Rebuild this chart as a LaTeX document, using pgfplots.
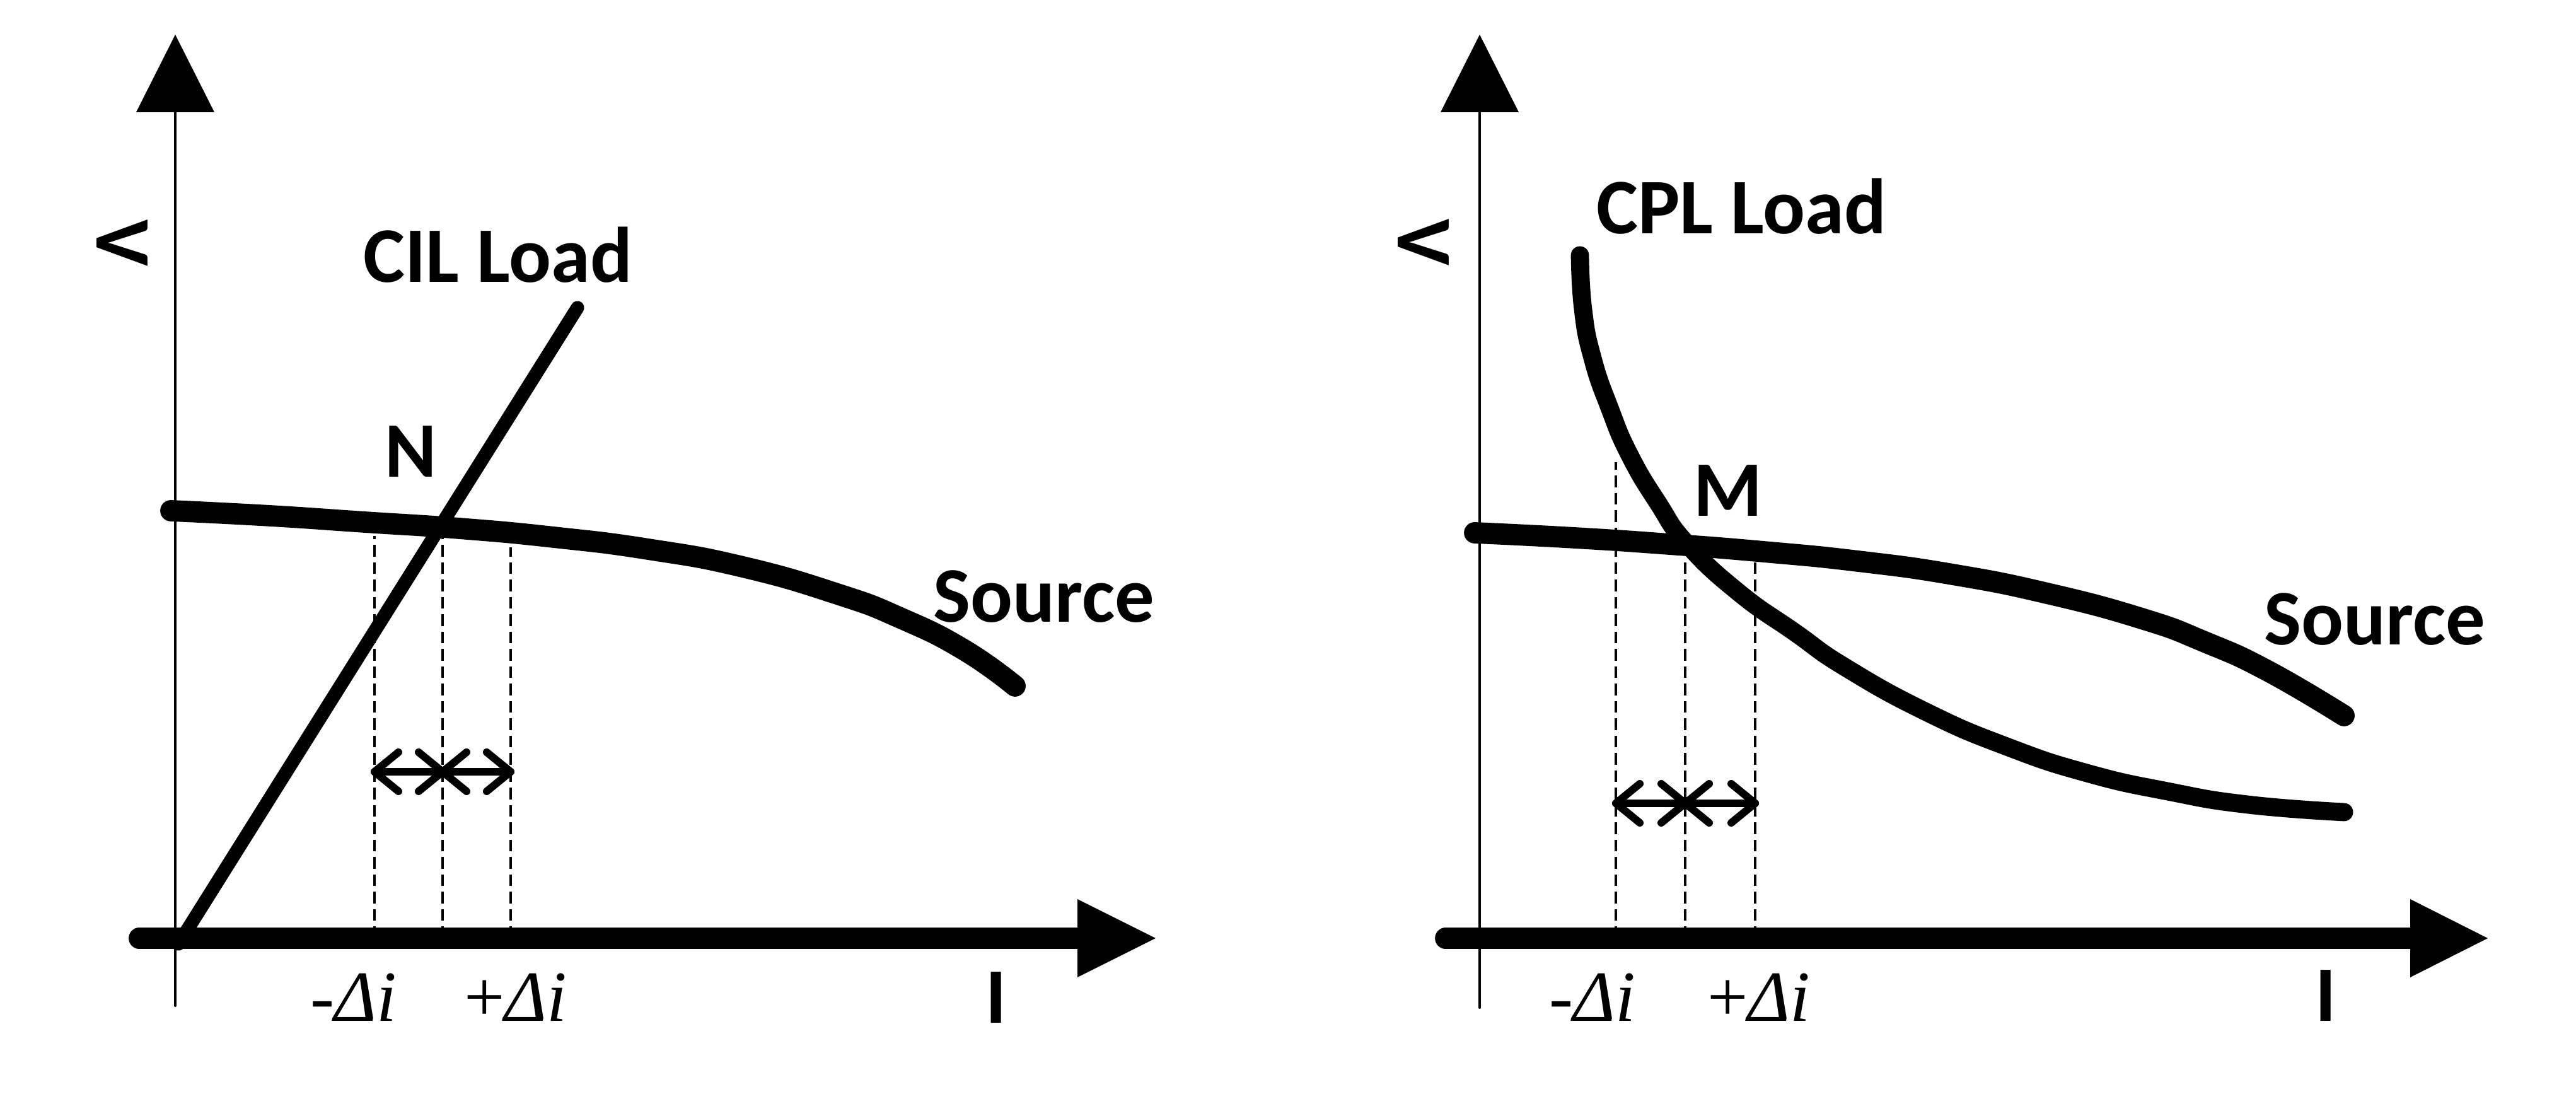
\documentclass[border=0pt]{standalone}
\usepackage{fontspec}
\setmainfont{Carlito}
\newfontfamily\lserif{Liberation Serif}
\usepackage{pgfplots}
\pgfplotsset{compat=1.18}

\newcommand{\lbl}{\fontsize{14.2}{17}\selectfont\bfseries}
\newcommand{\dlbl}{\fontsize{13}{15}\selectfont\lserif}

\pgfplotsset{
  panel/.style={scale only axis, width=81.72mm, height=69.4mm,
    ymin=-2.47, ymax=14.88, hide axis, clip=false},
  crv/.style={black, no markers, line cap=round, line join=round},
  guide/.style={black, no markers, line width=0.15mm, dash pattern=on 0.75mm off 0.35mm},
  chev/.style={crv, line width=0.48mm},
}

\begin{document}
\begin{tikzpicture}

% ---------------- left panel: CIL load ----------------
\begin{axis}[panel, at={(0,0)}, anchor=south west, xmin=-2.78, xmax=17.65]
\path (rel axis cs:0,0) rectangle (rel axis cs:1,1);

% V axis
\addplot[crv, line width=0.16mm] coordinates {(0,-1.07) (0,13.2)};
\addplot[fill=black, draw=none] coordinates {(-0.62,13.10) (0,14.33) (0.62,13.10)} -- cycle;

% guides
\addplot[guide] coordinates {(3.16,0) (3.16,6.38)};
\addplot[guide] coordinates {(4.24,0) (4.24,6.36)};
\addplot[guide] coordinates {(5.32,0) (5.32,6.20)};

% source
\addplot[crv, line width=1.35mm, smooth, tension=0.85] coordinates {
  (-0.07,6.78) (1.5,6.70) (3.0,6.60) (4.5,6.50) (6.0,6.36) (7.5,6.17)
  (9.0,5.89) (10.5,5.46) (11.5,5.08) (12.5,4.58) (13.32,4.00)};

% CIL load
\addplot[crv, line width=0.85mm] coordinates {(0.05,-0.09) (6.38,10.0)};

% +/- delta i arrows
\addplot[chev] coordinates {(3.16,2.64) (5.32,2.64)};
\addplot[chev] coordinates {(3.54,2.95) (3.16,2.64) (3.54,2.33)};
\addplot[chev] coordinates {(3.86,2.95) (4.24,2.64) (3.86,2.33)};
\addplot[chev] coordinates {(4.62,2.95) (4.24,2.64) (4.62,2.33)};
\addplot[chev] coordinates {(4.94,2.95) (5.32,2.64) (4.94,2.33)};

% I axis
\addplot[crv, line width=1.35mm] coordinates {(-0.57,0) (14.4,0)};
\addplot[fill=black, draw=none] coordinates {(14.31,0.62) (15.55,0) (14.31,-0.62)} -- cycle;

% labels
\node[font=\lbl, inner sep=0pt, anchor=base] at (axis cs:5.12,10.40) {CIL Load};
\node[font=\lbl, inner sep=0pt, anchor=base] at (axis cs:3.74,7.31) {N};
\node[font=\lbl, inner sep=0pt, anchor=base] at (axis cs:13.78,5.01) {Source};
\node[font=\lbl, inner sep=0pt, anchor=base] at (axis cs:13.02,-1.35) {I};
\node[font=\lbl, inner sep=0pt, rotate=-90] at (axis cs:-0.84,11.03) {V};
\node[inner sep=0pt, anchor=base] at (axis cs:2.83,-1.32) {\dlbl\itshape -Δi};
\node[inner sep=0pt, anchor=base] at (axis cs:5.40,-1.32) {\dlbl +\itshape Δi};
\end{axis}

% ---------------- right panel: CPL load ----------------
\begin{axis}[panel, at={(81.72mm,0)}, anchor=south west, xmin=-3.04, xmax=17.39]
\path (rel axis cs:0,0) rectangle (rel axis cs:1,1);

% V axis
\addplot[crv, line width=0.16mm] coordinates {(0,-1.10) (0,13.2)};
\addplot[fill=black, draw=none] coordinates {(-0.62,13.10) (0,14.33) (0.62,13.10)} -- cycle;

% guides
\addplot[guide] coordinates {(2.16,0) (2.16,7.55)};
\addplot[guide] coordinates {(3.26,0) (3.26,6.01)};
\addplot[guide] coordinates {(4.37,0) (4.37,6.03)};

% source
\addplot[crv, line width=1.35mm, smooth, tension=0.85] coordinates {
  (-0.08,6.43) (1.5,6.35) (3.0,6.25) (4.5,6.13) (6.0,5.98) (7.5,5.77)
  (9.0,5.47) (10.5,5.07) (11.5,4.70) (12.5,4.24) (13.71,3.53)};

% CPL load
\addplot[crv, line width=1.15mm, smooth, tension=0.85] coordinates {
  (1.59,10.83) (1.64,9.97) (1.79,9.20) (2.06,8.41) (2.38,7.66)
  (2.83,6.90) (3.29,6.25) (4.10,5.49) (5.00,4.85) (5.81,4.29)
  (7.08,3.59) (8.36,3.04) (9.63,2.62) (10.91,2.33) (12.18,2.12) (13.71,2.00)};

% +/- delta i arrows
\addplot[chev] coordinates {(2.16,2.14) (4.37,2.14)};
\addplot[chev] coordinates {(2.54,2.45) (2.16,2.14) (2.54,1.83)};
\addplot[chev] coordinates {(2.88,2.45) (3.26,2.14) (2.88,1.83)};
\addplot[chev] coordinates {(3.64,2.45) (3.26,2.14) (3.64,1.83)};
\addplot[chev] coordinates {(3.99,2.45) (4.37,2.14) (3.99,1.83)};

% I axis
\addplot[crv, line width=1.35mm] coordinates {(-0.54,0) (14.85,0)};
\addplot[fill=black, draw=none] coordinates {(14.76,0.62) (15.99,0) (14.76,-0.62)} -- cycle;

% labels
\node[font=\lbl, inner sep=0pt, anchor=base] at (axis cs:4.15,11.17) {CPL Load};
\node[font=\lbl, inner sep=0pt, anchor=base] at (axis cs:3.94,6.69) {M};
\node[font=\lbl, inner sep=0pt, anchor=base] at (axis cs:14.20,4.65) {Source};
\node[font=\lbl, inner sep=0pt, anchor=base] at (axis cs:13.42,-1.32) {I};
\node[font=\lbl, inner sep=0pt, rotate=-90] at (axis cs:-0.89,11.04) {V};
\node[inner sep=0pt, anchor=base] at (axis cs:1.79,-1.32) {\dlbl\itshape -Δi};
\node[inner sep=0pt, anchor=base] at (axis cs:4.43,-1.32) {\dlbl +\itshape Δi};
\end{axis}

\end{tikzpicture}
\end{document}
